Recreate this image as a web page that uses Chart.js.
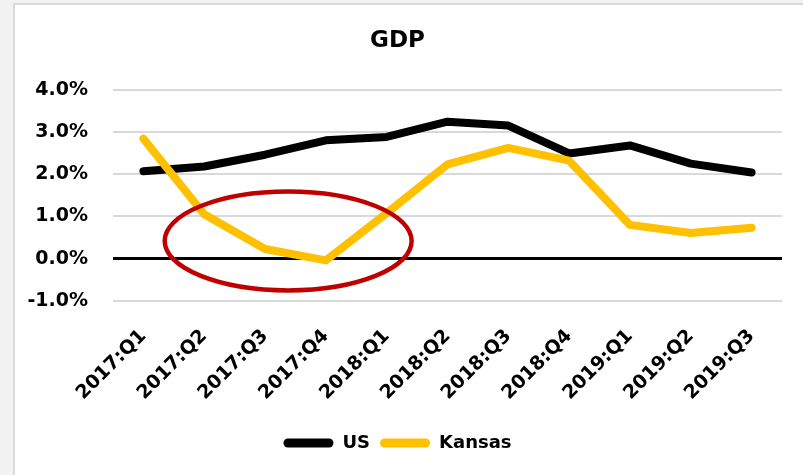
<!DOCTYPE html>
<html>
<head>
<meta charset="utf-8">
<script src="https://cdn.jsdelivr.net/npm/chart.js@4"></script>
<style>
  html, body { margin: 0; padding: 0; background: #f2f2f2; }
  #marco {
    position: absolute; left: 13px; top: 3px; width: 790px; height: 472px;
    background: #ffffff; border-left: 2px solid #d9d9d9; border-top: 2px solid #d9d9d9;
    box-sizing: border-box;
  }
  #caja { position: absolute; left: 13px; top: 3px; width: 790px; height: 472px; }
</style>
</head>
<body>
<div id="marco"></div>
<div id="caja"><canvas id="graficaGdp"></canvas></div>
<script>
// 🔹 Datos
const trimestres = ['2017:Q1', '2017:Q2', '2017:Q3', '2017:Q4', '2018:Q1', '2018:Q2',
                    '2018:Q3', '2018:Q4', '2019:Q1', '2019:Q2', '2019:Q3'];
const gdpUS     = [2.07, 2.18, 2.46, 2.80, 2.88, 3.24, 3.15, 2.49, 2.68, 2.25, 2.04];
const gdpKansas = [2.84, 1.05, 0.23, -0.04, 1.08, 2.23, 2.62, 2.32, 0.80, 0.61, 0.73];
const ticksY    = [-1, 0, 1, 2, 3, 4];

const fuente = 'DejaVu Sans';

// 🔹 Elipse roja (en unidades de los ejes)
const elipse = { centroX: 2.38, centroY: 0.42, radioX: 2.03, radioY: 1.17 };

const pluginElipse = {
    id: 'elipse',
    afterDatasetsDraw(chart) {
        const { ctx, scales: { x, y } } = chart;
        const cx = x.getPixelForValue(elipse.centroX);
        const cy = y.getPixelForValue(elipse.centroY);
        const rx = Math.abs(x.getPixelForValue(elipse.centroX + elipse.radioX) - cx);
        const ry = Math.abs(y.getPixelForValue(elipse.centroY + elipse.radioY) - cy);
        ctx.save();
        ctx.beginPath();
        ctx.ellipse(cx, cy, rx, ry, 0, 0, Math.PI * 2);
        ctx.strokeStyle = '#c00000';
        ctx.lineWidth = 4.5;
        ctx.stroke();
        ctx.restore();
    }
};

const ctx = document.getElementById('graficaGdp').getContext('2d');

new Chart(ctx, {
    type: 'line',
    data: {
        labels: trimestres,
        datasets: [
            {
                label: 'US',
                data: gdpUS,
                borderColor: '#000000',
                backgroundColor: '#000000',
                borderWidth: 8,
                pointRadius: 0,
                tension: 0,
                borderCapStyle: 'round',
                borderJoinStyle: 'round',
                order: 2
            },
            {
                label: 'Kansas',
                data: gdpKansas,
                borderColor: '#ffc000',
                backgroundColor: '#ffc000',
                borderWidth: 8,
                pointRadius: 0,
                tension: 0,
                borderCapStyle: 'round',
                borderJoinStyle: 'round',
                order: 1
            }
        ]
    },
    options: {
        responsive: true,
        maintainAspectRatio: false,
        animation: false,
        layout: { padding: { left: 0, right: 21, top: 0, bottom: 13 } },
        plugins: {
            title: {
                display: true,
                text: 'GDP',
                color: '#000000',
                font: { family: fuente, size: 23, weight: 'bold' },
                padding: { top: 24, bottom: 35 }
            },
            legend: {
                position: 'bottom',
                labels: {
                    color: '#000000',
                    font: { family: fuente, size: 18, weight: 'bold' },
                    boxWidth: 50,
                    boxHeight: 9,
                    useBorderRadius: true,
                    borderRadius: 4.5,
                    padding: 10,
                    sort: (a, b) => a.datasetIndex - b.datasetIndex,
                    generateLabels: chart =>
                        Chart.defaults.plugins.legend.labels.generateLabels(chart)
                            .map(l => ({ ...l, lineWidth: 0 }))
                }
            },
            tooltip: { enabled: false }
        },
        scales: {
            x: {
                offset: true,
                grid: { display: false, drawTicks: false, offset: true },
                border: { display: false },
                ticks: {
                    color: '#000000',
                    font: { family: fuente, size: 19, weight: 'bold' },
                    minRotation: 45,
                    maxRotation: 45,
                    padding: 24
                },
                afterFit: scale => { scale.height = 123; }
            },
            y: {
                min: -1,
                max: 4,
                afterBuildTicks: scale => { scale.ticks = ticksY.map(v => ({ value: v })); },
                grid: {
                    drawTicks: false,
                    color: c => c.tick.value === 0 ? '#000000' : '#d9d9d9',
                    lineWidth: c => c.tick.value === 0 ? 3 : 2
                },
                border: { display: false },
                ticks: {
                    color: '#000000',
                    font: { family: fuente, size: 19, weight: 'bold' },
                    padding: 25,
                    callback: v => v.toFixed(1) + '%'
                },
                afterFit: scale => { scale.width = 100; }
            }
        }
    },
    plugins: [pluginElipse]
});
</script>
</body>
</html>
